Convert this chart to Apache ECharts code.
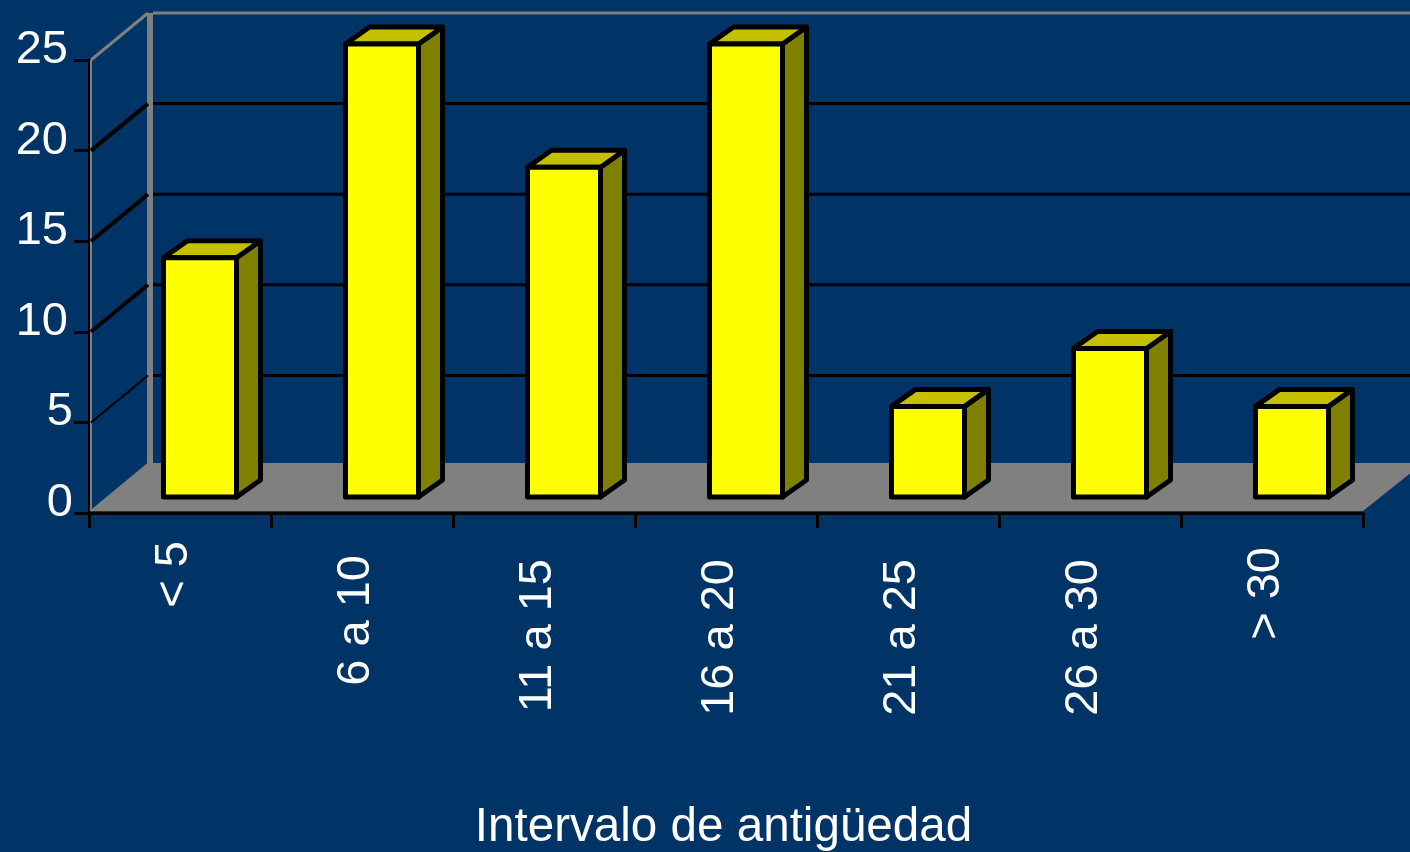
<!DOCTYPE html>
<html>
<head>
<meta charset="utf-8">
<title>Intervalo de antigüedad</title>
<script src="https://cdn.jsdelivr.net/npm/echarts@6/dist/echarts.min.js"></script>
<style>
  html, body { margin: 0; height: 100%; background: #003366; }
  #chart { width: 1410px; height: 852px; }
</style>
</head>
<body>
<div id="chart"></div>
<script>
const categories = ['< 5', '6 a 10', '11 a 15', '16 a 20', '21 a 25', '26 a 30', '> 30'];
const values = [13.2, 25, 18.2, 25, 5, 8.2, 5];
const yTicks = [0, 5, 10, 15, 20, 25];

const FONT = '"Liberation Sans", Arial, sans-serif';

// fake 3D: how far the back wall sits from the axes
const WALL_DX = 60;
const WALL_DY = -47;
const FLOOR_DY = -50;
// bars stand on the floor, a bit in from the front edge
const BAR_DX = 20;
const BAR_DY = -16;
const BAR_W = 73;
const BAR_DEPTH_X = 24;
const BAR_DEPTH_Y = -17;

function renderFloor(params, api) {
  const cs = params.coordSys;
  const y0 = api.coord([0, 0])[1];
  const left = cs.x;
  const right = cs.x + cs.width;
  return {
    type: 'polygon',
    shape: {
      points: [
        [left + 2, y0 - 2],
        [left + WALL_DX, y0 + FLOOR_DY],
        [right + WALL_DX, y0 + FLOOR_DY],
        [right, y0 - 2],
      ],
    },
    style: { fill: '#808080', stroke: '#000', lineWidth: 0 },
  };
}

function renderWall(params, api) {
  const cs = params.coordSys;
  const v = api.value(0);
  const y = api.coord([0, v])[1];
  const left = cs.x + 2;
  const backX = cs.x + WALL_DX;
  const right = cs.x + cs.width + WALL_DX;
  const isTop = v === yTicks[yTicks.length - 1];
  if (v === 0) {
    // back corner post and the thin front edge of the wall
    const top = api.coord([0, yTicks[yTicks.length - 1]])[1];
    return {
      type: 'group',
      children: [
        {
          type: 'line',
          shape: { x1: backX + 1, y1: y + FLOOR_DY, x2: backX + 1, y2: top + WALL_DY },
          style: { stroke: '#808080', lineWidth: 6 },
        },
        {
          type: 'line',
          shape: { x1: left, y1: y - 2, x2: left, y2: top },
          style: { stroke: '#808080', lineWidth: 2 },
        },
        {
          type: 'line',
          shape: { x1: left, y1: y - 2, x2: backX, y2: y + FLOOR_DY },
          style: { stroke: '#808080', lineWidth: 2 },
        },
      ],
    };
  }
  const color = isTop ? '#808080' : '#000';
  return {
    type: 'group',
    children: [
      {
        type: 'line',
        shape: { x1: left, y1: y, x2: backX - 1, y2: y + WALL_DY },
        style: { stroke: color, lineWidth: isTop ? 3 : v === 5 ? 2 : 4 },
      },
      {
        type: 'line',
        shape: { x1: backX + 4, y1: y + WALL_DY, x2: right, y2: y + WALL_DY },
        style: { stroke: color, lineWidth: 3 },
      },
    ],
  };
}

function renderBar(params, api) {
  const p = api.coord([api.value(0), api.value(1)]);
  const p0 = api.coord([api.value(0), 0]);
  const x1 = p[0] + BAR_DX - BAR_W / 2;
  const x2 = x1 + BAR_W;
  const yTop = p[1] + BAR_DY;
  const yBase = p0[1] + BAR_DY;
  const edge = { stroke: '#000', lineWidth: 5, lineJoin: 'round' };
  return {
    type: 'group',
    children: [
      {
        type: 'polygon',
        shape: {
          points: [
            [x2, yTop],
            [x2 + BAR_DEPTH_X, yTop + BAR_DEPTH_Y],
            [x2 + BAR_DEPTH_X, yBase + BAR_DEPTH_Y],
            [x2, yBase],
          ],
        },
        style: { fill: '#808000', ...edge },
      },
      {
        type: 'polygon',
        shape: {
          points: [
            [x1, yTop],
            [x1 + BAR_DEPTH_X, yTop + BAR_DEPTH_Y],
            [x2 + BAR_DEPTH_X, yTop + BAR_DEPTH_Y],
            [x2, yTop],
          ],
        },
        style: { fill: '#c4c000', ...edge },
      },
      {
        type: 'rect',
        shape: { x: x1, y: yTop, width: BAR_W, height: yBase - yTop },
        style: { fill: '#ffff00', ...edge },
      },
    ],
  };
}

// short labels start closer to the axis than the long ones
const labelTier = (name) => ({ 3: 'a', 4: 'b', 6: 'c', 7: 'd' }[name.length]);

const chart = echarts.init(document.getElementById('chart'), null, { renderer: 'canvas' });
chart.setOption({
  animation: false,
  backgroundColor: '#003366',
  textStyle: { fontFamily: FONT },
  grid: { left: 89, right: 47, top: 60, bottom: 339, containLabel: false, outerBoundsMode: 'none' },
  xAxis: {
    type: 'category',
    data: categories,
    boundaryGap: true,
    axisLine: { onZero: false, lineStyle: { color: '#000', width: 3 } },
    axisTick: { show: true, alignWithLabel: false, length: 15, lineStyle: { color: '#000', width: 3 } },
    axisLabel: {
      interval: 0,
      rotate: 90,
      margin: 28,
      color: '#fff',
      fontSize: 47,
      fontFamily: FONT,
      formatter: (name) => `{${labelTier(name)}|${name}}`,
      rich: {
        a: { fontSize: 47, color: '#fff', padding: [0, 0, 12, 0] },
        b: { fontSize: 47, color: '#fff', padding: [0, 6, 12, 0] },
        c: { fontSize: 47, color: '#fff', padding: [0, 14, 12, 0] },
        d: { fontSize: 47, color: '#fff', padding: [0, 18, 12, 0] },
      },
    },
    name: 'Intervalo de antigüedad',
    nameLocation: 'middle',
    nameGap: 291,
    nameTextStyle: { color: '#fff', fontSize: 47.6, fontFamily: FONT, padding: [0, 5, 0, 0] },
  },
  yAxis: {
    type: 'value',
    min: 0,
    max: 25,
    interval: 5,
    axisLine: { show: true, lineStyle: { color: '#000', width: 3 } },
    axisTick: { show: true, length: 15, lineStyle: { color: '#000', width: 3 } },
    splitLine: { show: false },
    axisLabel: {
      margin: 16,
      color: '#fff',
      fontSize: 47,
      fontFamily: FONT,
      verticalAlign: 'bottom',
      formatter: (v) => (v < 10 ? `{one|${v}}` : `{two|${v}}`),
      rich: {
        one: { fontSize: 47, color: '#fff', lineHeight: 20 },
        two: { fontSize: 47, color: '#fff', lineHeight: 20, padding: [0, 5, 0, 0] },
      },
      showMinLabel: true,
      showMaxLabel: true,
    },
  },
  series: [
    {
      type: 'custom',
      name: 'floor',
      z: 1,
      silent: true,
      renderItem: renderFloor,
      data: [[0]],
    },
    {
      type: 'custom',
      name: 'wall',
      z: 2,
      silent: true,
      renderItem: renderWall,
      encode: { y: 0 },
      data: yTicks.map((v) => [v]),
    },
    {
      type: 'custom',
      name: 'Antigüedad',
      z: 3,
      renderItem: renderBar,
      encode: { x: 0, y: 1 },
      data: values.map((v, i) => [i, v]),
    },
  ],
});

window.addEventListener('resize', () => chart.resize());
</script>
</body>
</html>
